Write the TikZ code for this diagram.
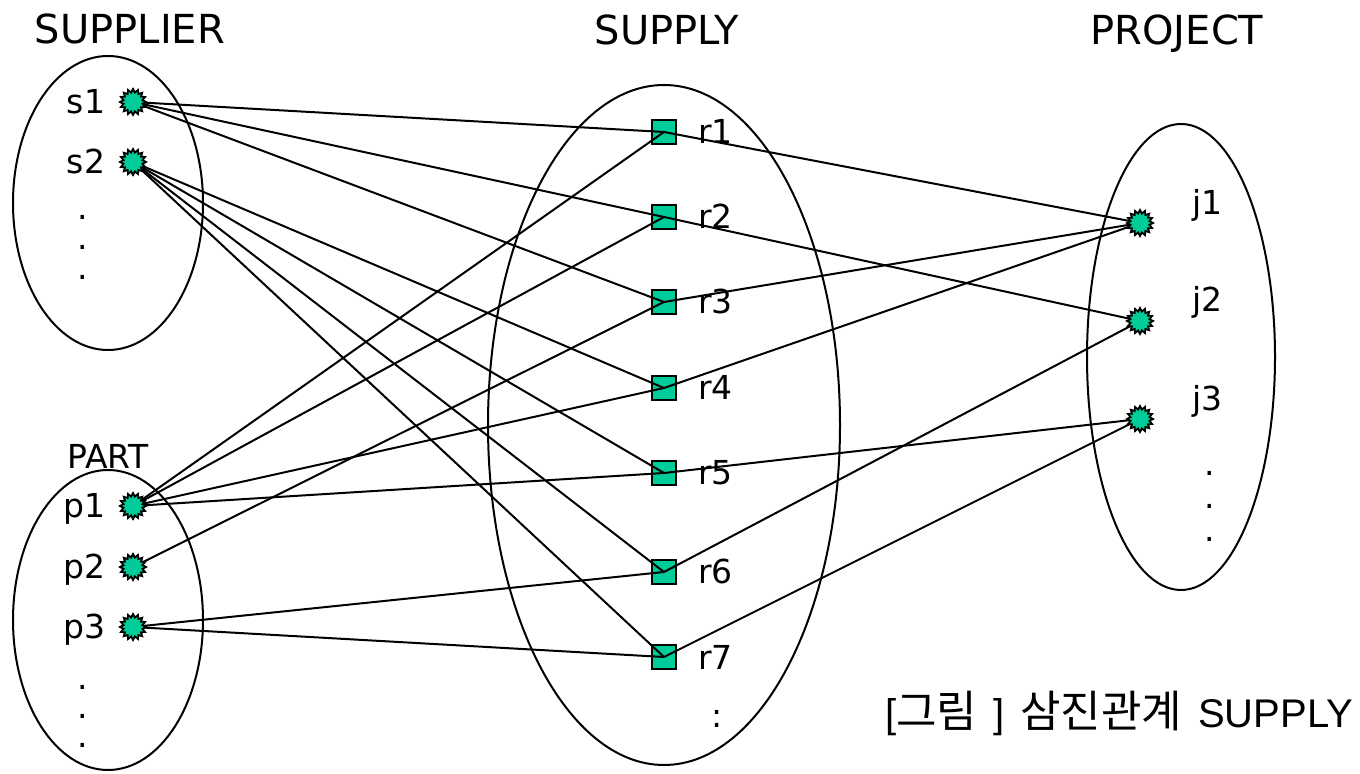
\documentclass[tikz,border=0pt]{standalone}
\usepackage{fontspec}
\setmainfont{DejaVu Sans}
\newfontfamily\capfont{Liberation Sans}
\newfontfamily\hangul[Scale=1.1]{Noto Sans CJK KR}
\usetikzlibrary{shapes.geometric}
\definecolor{jade}{RGB}{0,204,153}

\begin{document}
\begin{tikzpicture}[x=0.5pt, y=-0.5pt, line width=1pt,
  every node/.style={inner sep=0pt, outer sep=0pt},
  burst/.style={star, star points=16, star point ratio=1.35, minimum size=13pt, fill=jade, draw=black, line width=0.9pt},
  box/.style={rectangle, minimum size=12pt, fill=jade, draw=black, line width=1pt},
  lbl/.style={font=\fontsize{16.5}{20}\selectfont},
  title/.style={font=\fontsize{20}{24}\selectfont}]
\useasboundingbox (0,0) rectangle (1360,774);

\draw (108,203) ellipse [x radius=47.5pt, y radius=73.5pt];
\draw (108,620) ellipse [x radius=47.5pt, y radius=75pt];
\draw (664,425) ellipse [x radius=88pt, y radius=170pt];
\draw (1181,357) ellipse [x radius=47pt, y radius=116.5pt];

\node[title, anchor=base] (tsupplier) at (130,44) {SUPPLIER};
\node[title, anchor=base] (tsupply) at (667,45) {SUPPLY};
\node[title, anchor=base] (tproject) at (1177,45) {PROJECT};
\node[lbl, anchor=base] (tpart) at (108,469) {PART};

\node[burst] (s1) at (133,102) {};
\node[burst] (s2) at (133,162) {};
\node[lbl, anchor=base east] (ls1) at (105,114) {s1};
\node[lbl, anchor=base east] (ls2) at (105,174) {s2};
\node[align=center, font=\fontsize{16.5}{15}\selectfont] (ds) at (83,247) {.\\.\\.};

\node[burst] (p1) at (133,506) {};
\node[burst] (p2) at (133,567) {};
\node[burst] (p3) at (133,627) {};
\node[lbl, anchor=base east] (lp1) at (105,518) {p1};
\node[lbl, anchor=base east] (lp2) at (105,579) {p2};
\node[lbl, anchor=base east] (lp3) at (105,639) {p3};
\node[align=center, font=\fontsize{16.5}{14.5}\selectfont] (dp) at (83,716) {.\\.\\.};

\node[box] (r1) at (664,132) {};
\node[box] (r2) at (664,217) {};
\node[box] (r3) at (664,302) {};
\node[box] (r4) at (664,388) {};
\node[box] (r5) at (664,473) {};
\node[box] (r6) at (664,572) {};
\node[box] (r7) at (664,657) {};
\node[lbl, anchor=base west] (lr1) at (698,144) {r1};
\node[lbl, anchor=base west] (lr2) at (698,229) {r2};
\node[lbl, anchor=base west] (lr3) at (698,314) {r3};
\node[lbl, anchor=base west] (lr4) at (698,400) {r4};
\node[lbl, anchor=base west] (lr5) at (698,485) {r5};
\node[lbl, anchor=base west] (lr6) at (698,584) {r6};
\node[lbl, anchor=base west] (lr7) at (698,669) {r7};
\node[lbl, anchor=base] (dr) at (717,727) {:};

\node[burst] (j1) at (1140,223) {};
\node[burst] (j2) at (1140,321) {};
\node[burst] (j3) at (1140,419) {};
\node[lbl, anchor=base west] (lj1) at (1192,215) {j1};
\node[lbl, anchor=base west] (lj2) at (1192,312) {j2};
\node[lbl, anchor=base west] (lj3) at (1192,411) {j3};
\node[align=center, font=\fontsize{16.5}{16.5}\selectfont] (dj) at (1210,506) {.\\.\\.};

\node[anchor=base east, font=\fontsize{20}{24}\selectfont] (caption) at (1353,727)
  {\capfont[{\hangul 그림}\hspace{8pt}]\hspace{8pt}{\hangul 삼진관계}\hspace{8pt}SUPPLY};

\draw (s1) -- (r1.center);
\draw (s1) -- (r2.center);
\draw (s1) -- (r3.center);
\draw (s2) -- (r4.center);
\draw (s2) -- (r5.center);
\draw (s2) -- (r6.center);
\draw (s2) -- (r7.center);

\draw (p1) -- (r1.center);
\draw (p1) -- (r2.center);
\draw (p1) -- (r4.center);
\draw (p1) -- (r5.center);
\draw (p2) -- (r3.center);
\draw (p3) -- (r6.center);
\draw (p3) -- (r7.center);

\draw (r1.center) -- (j1);
\draw (r2.center) -- (j2);
\draw (r3.center) -- (j1);
\draw (r4.center) -- (j1);
\draw (r5.center) -- (j3);
\draw (r6.center) -- (j2);
\draw (r7.center) -- (j3);
\end{tikzpicture}
\end{document}
